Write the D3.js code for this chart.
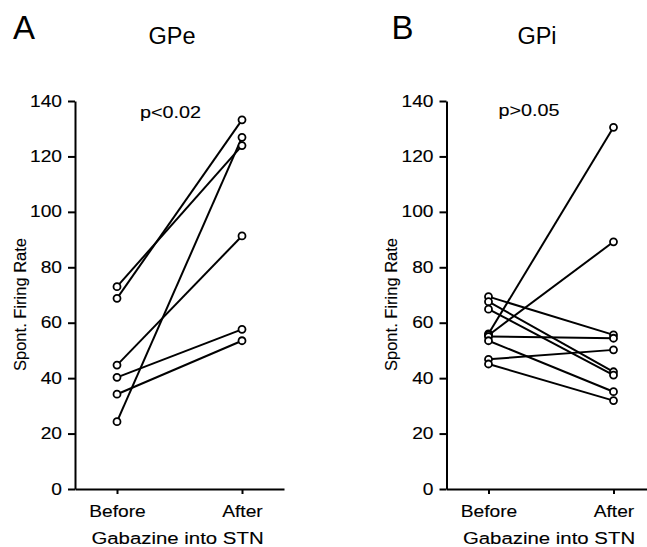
<!DOCTYPE html>
<html>
<head>
<meta charset="utf-8">
<script src="https://cdn.jsdelivr.net/npm/d3@7"></script>
<style>
  html, body { margin: 0; padding: 0; background: #fff; }
  svg { display: block; font-family: "Liberation Sans", Arial, Helvetica, sans-serif; }
  svg text.small { stroke: #000; stroke-width: 0.12px; }
</style>
</head>
<body>
<script>
// Paired recordings: spontaneous firing rate before and after gabazine into STN
const conditions = ["Before", "After"];
const yTicks = [0, 20, 40, 60, 80, 100, 120, 140];

const gpeBefore = [73.0, 68.8, 24.3, 44.7, 40.3, 34.2];
const gpeAfter  = [123.9, 133.2, 126.9, 91.3, 57.6, 53.5];

const gpiBefore = [69.4, 67.6, 64.9, 56.0, 55.5, 55.0, 53.5, 46.8, 45.1];
const gpiAfter  = [55.6, 42.3, 41.1, 130.5, 89.2, 54.4, 35.1, 50.2, 31.9];

const panelLetters = ["A", "B"];
const panelTitles = ["GPe", "GPi"];
const pLabels = ["p<0.02", "p>0.05"];
const yLabel = "Spont. Firing Rate";
const xLabel = "Gabazine into STN";

const W = 647, H = 547;
const FONT = '"Liberation Sans", Arial, Helvetica, sans-serif';
const SX = 1.2; // horizontal widening of the small annotation text

const svg = d3.select("body").append("svg")
  .attr("width", W).attr("height", H);

const y = d3.scaleLinear().domain([0, 140]).range([489, 101]);

// widen text horizontally around its anchor point
function widen(sel) {
  sel.each(function () {
    const t = d3.select(this);
    const tx = +t.attr("x") || 0, ty = +t.attr("y") || 0;
    t.attr("x", 0).attr("y", 0)
      .attr("transform", `translate(${tx},${ty}) scale(${SX},1)`);
  });
}

const layout = [
  { axisX: 75,    letterX: 13,    titleX: 172, pX: 170.5, pY: 118 },
  { axisX: 446.5, letterX: 391.5, titleX: 537, pX: 529,   pY: 116 }
];
const data = [
  { before: gpeBefore, after: gpeAfter },
  { before: gpiBefore, after: gpiAfter }
];

layout.forEach((L, i) => {
  const g = svg.append("g");
  const x = d3.scalePoint().domain(conditions)
    .range([L.axisX, L.axisX + 209]).padding(0.336);

  // y axis
  const ya = g.append("g")
    .attr("transform", `translate(${L.axisX},0)`)
    .call(d3.axisLeft(y).tickValues(yTicks).tickSize(7).tickPadding(6).tickSizeOuter(0))
    .attr("font-family", null).attr("font-size", null);
  ya.select(".domain").attr("stroke", "#000").attr("stroke-width", 2);
  ya.selectAll(".tick line").attr("stroke", "#000").attr("stroke-width", 2);
  ya.selectAll(".tick text").attr("class", "small").attr("fill", "#000")
    .attr("font-family", FONT).attr("font-size", 16);
  widen(ya.selectAll(".tick text"));

  // x axis
  const xa = g.append("g")
    .attr("transform", "translate(0,489)")
    .call(d3.axisBottom(x).tickSize(5).tickSizeOuter(0))
    .attr("font-family", null).attr("font-size", null);
  xa.select(".domain").attr("stroke", "#000").attr("stroke-width", 2);
  xa.selectAll(".tick line").attr("stroke", "#000").attr("stroke-width", 2);
  xa.selectAll(".tick text").attr("class", "small").attr("fill", "#000")
    .attr("font-family", FONT).attr("font-size", 16)
    .attr("y", 28).attr("dy", null);
  widen(xa.selectAll(".tick text"));

  // paired lines
  const d = data[i];
  const pairs = d.before.map((b, k) => ({ b, a: d.after[k] }));
  g.append("g").selectAll("line").data(pairs).join("line")
    .attr("x1", x("Before")).attr("y1", p => y(p.b))
    .attr("x2", x("After")).attr("y2", p => y(p.a))
    .attr("stroke", "#000").attr("stroke-width", 2);

  // open circles
  const pts = [];
  pairs.forEach(p => {
    pts.push({ c: "Before", v: p.b });
    pts.push({ c: "After", v: p.a });
  });
  g.append("g").selectAll("circle").data(pts).join("circle")
    .attr("cx", p => x(p.c)).attr("cy", p => y(p.v))
    .attr("r", 3.5)
    .attr("fill", "#fff").attr("stroke", "#000").attr("stroke-width", 1.8);

  // panel letter
  g.append("text").attr("x", L.letterX).attr("y", 39)
    .attr("font-size", 33).attr("fill", "#000").text(panelLetters[i]);

  // title
  g.append("text").attr("x", L.titleX).attr("y", 43.5)
    .attr("text-anchor", "middle").attr("font-size", 23.5).attr("fill", "#000")
    .text(panelTitles[i]);

  // p-value
  const pt = g.append("text").attr("class", "small")
    .attr("x", L.pX).attr("y", L.pY)
    .attr("text-anchor", "middle").attr("font-size", 16.5).attr("fill", "#000")
    .text(pLabels[i]);
  widen(pt);

  // y label
  g.append("text").attr("class", "small")
    .attr("transform", `translate(${L.axisX - 49.5},304.5) rotate(-90)`)
    .attr("text-anchor", "middle").attr("font-size", 16.5).attr("fill", "#000")
    .text(yLabel);

  // x label
  const xl = g.append("text").attr("class", "small")
    .attr("x", (x("Before") + x("After")) / 2 - 2).attr("y", 544)
    .attr("text-anchor", "middle").attr("font-size", 17).attr("fill", "#000")
    .text(xLabel);
  widen(xl);
});
</script>
</body>
</html>
